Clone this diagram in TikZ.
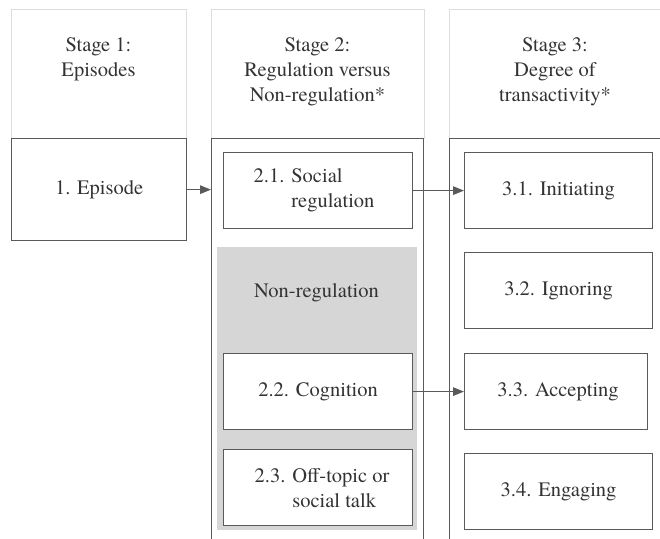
\documentclass[tikz,border=0pt]{standalone}
\usepackage{fontspec}
\setmainfont{TeX Gyre Termes}
\usetikzlibrary{arrows.meta}
\definecolor{txt}{HTML}{333333}
\definecolor{edge}{HTML}{5A5A5A}
\definecolor{hdr}{HTML}{DDDDDD}
\definecolor{nonreg}{HTML}{D6D6D6}
\tikzset{
  every node/.style={font=\rmfamily\fontsize{20.5}{25}\selectfont, text=txt},
  hdrbox/.style={draw=hdr, line width=0.9pt, minimum width=#1, minimum height=129pt, anchor=north west, inner sep=0pt},
  colbox/.style={draw=edge, line width=1.3pt, minimum width=#1, minimum height=430pt, anchor=north west, inner sep=0pt},
  catbox/.style={draw=edge, line width=1.2pt, fill=white, minimum width=#1, minimum height=76pt, anchor=north west, inner sep=0pt},
  hdrtext/.style={anchor=north, align=center, inner sep=0pt},
  arr/.style={draw=edge, line width=1.2pt, -{Triangle[length=11pt,width=8.5pt]}},
}
\begin{document}
\begin{tikzpicture}[x=1pt,y=-1pt]
\useasboundingbox (0,0) rectangle (660,538);
\clip (0,0) rectangle (660,538);
\fill[white] (0,0) rectangle (660,538);
% headers
\node[hdrbox=175pt] (h1) at (11,9) {};
\node[hdrbox=213pt] (h2) at (211,9) {};
\node[hdrbox=240pt] (h3) at (449,9) {};
\node[hdrtext] (h1t) at (98.5,37.5) {Stage 1:\\Episodes};
\node[hdrtext] (h2t) at (317.5,37.5) {Stage 2:\\Regulation versus\\Non-regulation*};
\node[hdrtext] (h3t) at (555,37.5) {Stage 3:\\Degree of\\transactivity*};
% columns
\node[colbox=212pt] (c2) at (211,138) {};
\node[colbox=240pt] (c3) at (449,138) {};
% stage 1
\node[draw=edge, line width=1.3pt, minimum width=175pt, minimum height=102pt, anchor=north west, inner sep=0pt] (ep) at (11,138) {};
\node (ept) at (ep.center) {1. Episode};
% non-regulation area
\node[fill=nonreg, minimum width=200pt, minimum height=283pt, anchor=north west, inner sep=0pt] (nr) at (217,247) {};
\node (nrt) at (316.5,293) {Non-regulation};
% stage 2 boxes
\node[catbox=189pt] (s21) at (223,152) {};
\node[align=left] at ([xshift=-4pt]s21.center) {2.1. Social\\\hphantom{2.1. }regulation};
\node[catbox=189pt] (s22) at (223,353) {};
\node at (s22.center) {2.2. Cognition};
\node[catbox=189pt] (s23) at (223,449) {};
\node[align=left] at ([xshift=4pt]s23.center) {2.3. Off-topic or\\\hphantom{2.3. }social talk};
% stage 3 boxes
\node[catbox=188pt] (s31) at (464,152) {};
\node at (s31.center) {3.1. Initiating};
\node[catbox=188pt] (s32) at (464,252) {};
\node at (s32.center) {3.2. Ignoring};
\node[catbox=183pt] (s33) at (464,353) {};
\node at ([xshift=2pt]s33.center) {3.3. Accepting};
\node[catbox=188pt] (s34) at (464,453) {};
\node at (s34.center) {3.4. Engaging};
% arrows
\draw[arr] (ep.east) -- (ep.east -| c2.west);
\draw[arr] (s21.east) -- (s31.west);
\draw[arr] (s22.east) -- (s33.west);
\end{tikzpicture}
\end{document}
